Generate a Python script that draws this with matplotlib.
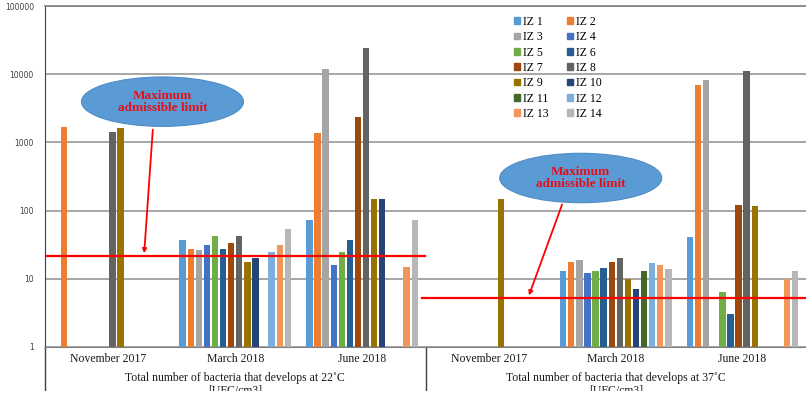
import numpy as np
import matplotlib
matplotlib.use("Agg")
import matplotlib.pyplot as plt
from matplotlib.patches import Ellipse, Patch
from matplotlib.transforms import blended_transform_factory

nan = np.nan

categories = ["November 2017", "March 2018", "June 2018",
              "November 2017", "March 2018", "June 2018"]
group_labels = ["Total number of bacteria that develops at 22\u02daC\n[UFC/cm3]",
                "Total number of bacteria that develops at 37\u02daC\n[UFC/cm3]"]
series = ["IZ %d" % i for i in range(1, 15)]

# one row per sample point (IZ 1..14), one column per category
values = {
    "IZ 1":  [nan, 36, 71, nan, 12, 40.6],
    "IZ 2":  [1700, 26.7, 1390, nan, 16.9, 6950],
    "IZ 3":  [nan, 25.8, 11800, nan, 17.6, 8130],
    "IZ 4":  [nan, 30, 15, nan, 11, nan],
    "IZ 5":  [nan, 41, 23.7, nan, 12, 5.3],
    "IZ 6":  [nan, 26, 35.5, nan, 13.2, 2.0],
    "IZ 7":  [nan, 32, 2380, nan, 16.9, 121],
    "IZ 8":  [1440, 41, 24000, nan, 18.9, 11100],
    "IZ 9":  [1610, 16.9, 148, 148, 9.0, 114],
    "IZ 10": [nan, 18.9, 146, nan, 6.0, nan],
    "IZ 11": [nan, nan, nan, nan, 12, nan],
    "IZ 12": [nan, 23.7, nan, nan, 15.8, nan],
    "IZ 13": [nan, 30, 13.8, nan, 15, 9.1],
    "IZ 14": [nan, 52, 73, nan, 13, 12],
}
limit_22 = 21.5
limit_37 = 5.2

colors = ["#5B9BD5", "#ED7D31", "#A5A5A5", "#4472C4", "#70AD47", "#255E91",
          "#9E480E", "#636363", "#997300", "#264478", "#43682B", "#7CAFDD",
          "#F1975A", "#B7B7B7"]

serif = ["Liberation Serif", "DejaVu Serif"]

fig = plt.figure(figsize=(8.06, 3.96), dpi=100)
ax = fig.add_axes([45 / 806, 1 - 347 / 396, 761 / 806, 341 / 396])

x = np.arange(len(categories))
slot = 0.0638
for i, name in enumerate(series):
    ax.bar(x + (i - 6.5) * slot, values[name], width=0.05, bottom=1,
           color=colors[i], zorder=3)

ax.set_yscale("log")
ax.set_ylim(1, 100000)
ax.set_xlim(-0.5, 5.5)
ticks = [1, 10, 100, 1000, 10000, 100000]
ax.set_yticks(ticks)
ax.set_yticklabels([str(t) for t in ticks], fontsize=5.5, color="#404040")
ax.minorticks_off()
ax.tick_params(axis="y", length=0, pad=8)
ax.grid(axis="y", color="#A6A6A6", linewidth=1.4, zorder=0)

ax.set_xticks(x)
ax.set_xticklabels(categories, fontsize=8.5, family=serif, color="#1a1a1a")
ax.tick_params(axis="x", length=0, pad=4)

ax.spines["right"].set_visible(False)
ax.spines["top"].set_color("#808080")
ax.spines["top"].set_linewidth(1.2)
ax.spines["bottom"].set_color("#808080")
ax.spines["left"].set_color("#404040")

# multi-level axis separators and group titles
tr = blended_transform_factory(ax.transData, ax.transAxes)
for xs in [-0.5, 2.5]:
    ax.plot([xs, xs], [0, -0.13], transform=tr, color="#404040",
            linewidth=1, clip_on=False)
for j, lab in enumerate(group_labels):
    ax.text(1 + 3 * j, -0.073, lab, transform=tr, ha="center", va="top",
            fontsize=8.5, family=serif, color="#1a1a1a", linespacing=1.1)

# maximum admissible limits
ax.axhline(limit_22, xmin=0, xmax=0.4993, color="red", linewidth=1.6, zorder=4)
ax.axhline(limit_37, xmin=0.495, xmax=1.0, color="red", linewidth=1.6, zorder=4)

callouts = [((0.1544, 0.7194), (0.1419, 0.6452), (0.1301, 0.2669)),
            ((0.704, 0.4956), (0.6807, 0.4252), (0.6347, 0.1437))]
for (cx, cy), start, end in callouts:
    ax.add_patch(Ellipse((cx, cy), 0.2129, 0.145, transform=ax.transAxes,
                         facecolor="#5B9BD5", edgecolor="#4F8CC4",
                         linewidth=0.8, zorder=5))
    ax.text(cx, cy, "Maximum\nadmissible limit", transform=ax.transAxes,
            ha="center", va="center", color="#E3101B", fontsize=9.5,
            fontweight="bold", family=serif, zorder=6, linespacing=1.0)
    ax.annotate("", xy=end, xytext=start, xycoords="axes fraction",
                arrowprops=dict(arrowstyle="-|>", color="red", lw=1.3,
                                mutation_scale=6), zorder=6)

# legend filled row by row
handles = [Patch(color=c, label=n) for c, n in zip(colors, series)]
order = list(range(0, 14, 2)) + list(range(1, 14, 2))
ax.legend([handles[k] for k in order], [series[k] for k in order],
          ncol=2, loc="upper left", bbox_to_anchor=(514 / 806, 1 - 16 / 396),
          bbox_transform=fig.transFigure, frameon=False,
          prop={"family": serif, "size": 8.5}, handlelength=0.5,
          handleheight=0.5, handletextpad=0.25, labelspacing=0.28,
          columnspacing=1.55, borderaxespad=0, borderpad=0)

# the source image is cut off just above the bottom edge
fig.patches.append(plt.Rectangle((0, 0), 1, 5 / 396, transform=fig.transFigure,
                                 facecolor="white", edgecolor="none", zorder=10))

fig.savefig("out.png", dpi=100)
